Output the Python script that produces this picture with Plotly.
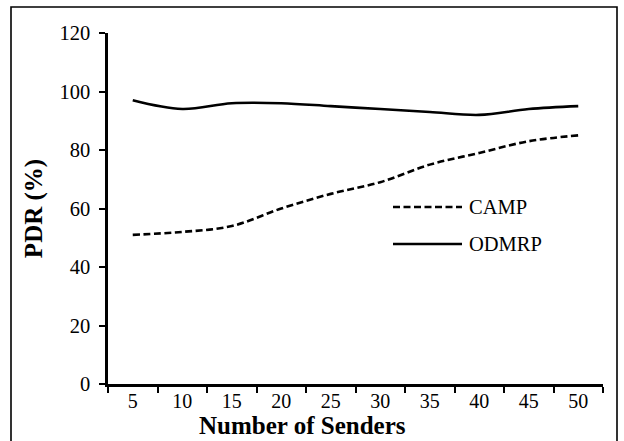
import plotly.graph_objects as go

# Number of senders (category axis)
senders = ["5", "10", "15", "20", "25", "30", "35", "40", "45", "50"]

# Packet delivery ratio (%)
camp_pdr = [51, 52, 54, 60, 65, 69, 75, 79, 83, 85]
odmrp_pdr = [97, 94, 96, 96, 95, 94, 93, 92, 94, 95]

y_ticks = [0, 20, 40, 60, 80, 100, 120]

W, H = 624, 441
ML, MR, MT, MB = 108, 21, 33, 57
FONT = "Liberation Serif, Times New Roman, serif"
DASH = "7px,3.5px"

fig = go.Figure()
fig.add_trace(go.Scatter(
    x=senders, y=camp_pdr, name="CAMP", mode="lines",
    line=dict(color="black", width=2.6, dash=DASH, shape="spline", smoothing=1.0),
    showlegend=False,
))
fig.add_trace(go.Scatter(
    x=senders, y=odmrp_pdr, name="ODMRP", mode="lines",
    line=dict(color="black", width=2.6, shape="spline", smoothing=1.0),
    showlegend=False,
))


def px_x(p):
    return (p - ML) / (W - ML - MR)


def px_y(p):
    return 1 - (p - MT) / (H - MT - MB)


# Outer frame around the whole chart
fig.add_shape(type="rect", xref="paper", yref="paper",
              x0=px_x(11), x1=px_x(617), y0=px_y(460), y1=px_y(7),
              line=dict(color="black", width=1.6), fillcolor="rgba(0,0,0,0)", layer="above")

# Legend drawn as line samples with labels
legend_items = [("CAMP", DASH, 207), ("ODMRP", "solid", 244)]
for label, dash, ypix in legend_items:
    fig.add_shape(type="line", xref="paper", yref="paper",
                  x0=px_x(393), x1=px_x(462), y0=px_y(ypix), y1=px_y(ypix),
                  line=dict(color="black", width=2.4, dash=dash))
    fig.add_annotation(xref="paper", yref="paper", x=px_x(467), y=px_y(ypix),
                       text=label, showarrow=False, xanchor="left", yanchor="middle",
                       font=dict(family=FONT, size=20.5, color="black"))

# X-axis title
fig.add_annotation(xref="paper", yref="paper", x=px_x(302), y=px_y(425),
                   text="<b>Number of Senders</b>", showarrow=False,
                   xanchor="center", yanchor="middle",
                   font=dict(family=FONT, size=25, color="black"))

fig.update_layout(
    width=W, height=H,
    margin=dict(l=ML, r=MR, t=MT, b=MB, autoexpand=False),
    paper_bgcolor="white", plot_bgcolor="white",
    font=dict(family=FONT, size=20.5, color="black"),
    showlegend=False,
)
fig.update_xaxes(
    type="category", range=[-0.5, 9.5],
    tickson="boundaries", ticks="outside", ticklen=6, tickwidth=2, tickcolor="black",
    showline=True, linecolor="black", linewidth=2.5, showgrid=False, zeroline=False,
    ticklabelstandoff=-3,
    tickfont=dict(family=FONT, size=20, color="black"),
    automargin=False,
)
fig.update_yaxes(
    range=[0, 120], tickvals=y_ticks, ticks="outside", ticklen=6, tickwidth=2, tickcolor="black",
    showline=True, linecolor="black", linewidth=2.5, showgrid=False, zeroline=False,
    ticklabelstandoff=5,
    tickfont=dict(family=FONT, size=20.5, color="black"),
    title=dict(text="<b>PDR (%)</b>", standoff=10,
               font=dict(family=FONT, size=25, color="black")),
    automargin=False,
)

fig.write_html("out.html")
